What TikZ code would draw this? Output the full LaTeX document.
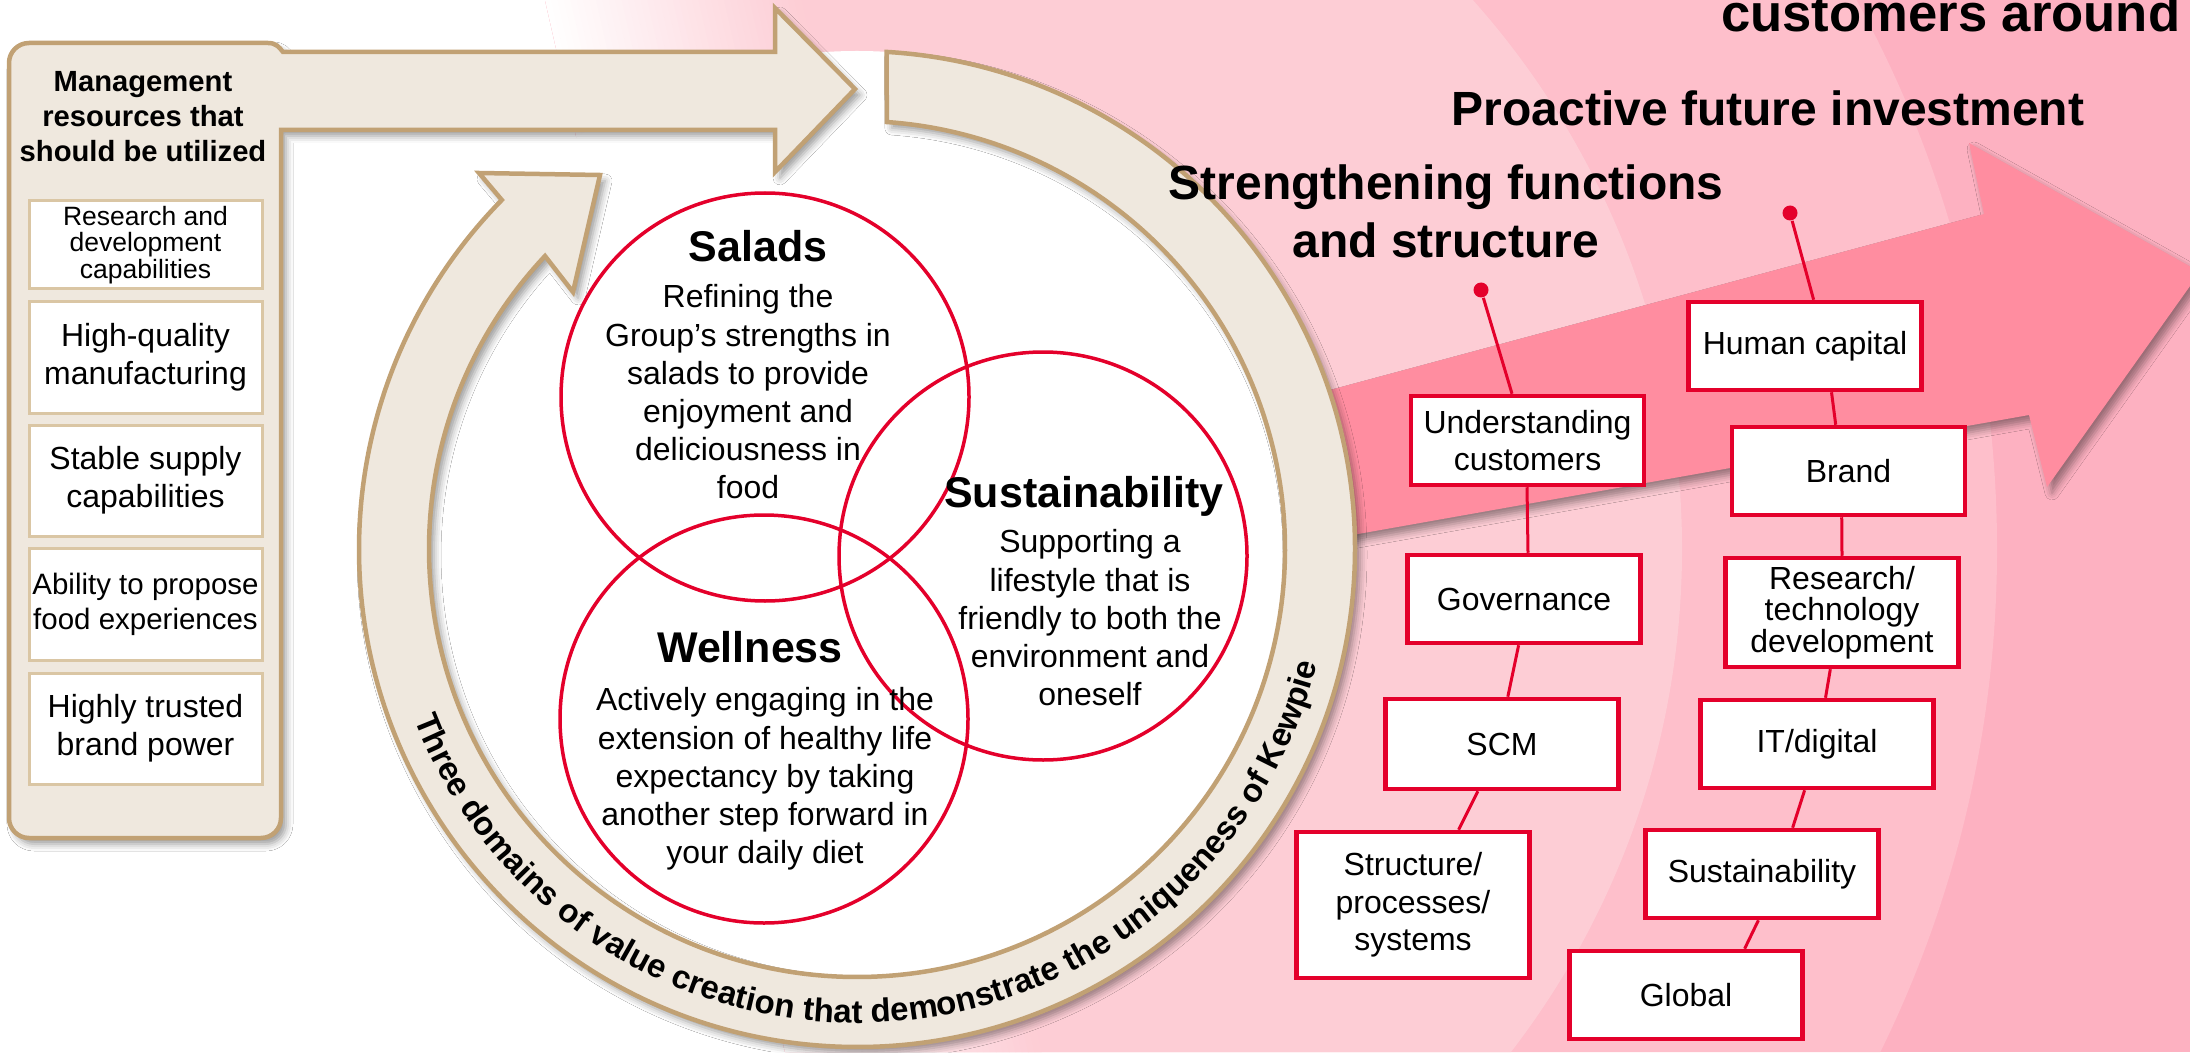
\documentclass[tikz,border=0pt]{standalone}
\usepackage{fontspec}
\setmainfont{Liberation Sans}
\usetikzlibrary{decorations.text,shadows.blur}

\definecolor{kred}{RGB}{228,0,43}
\definecolor{beige}{RGB}{239,232,222}
\definecolor{tan}{RGB}{193,161,116}
\definecolor{tanlight}{RGB}{218,198,164}
\definecolor{pinka}{RGB}{253,205,213}
\definecolor{pinkb}{RGB}{254,191,203}
\definecolor{pinkc}{RGB}{253,177,193}
\definecolor{pinkarrow}{RGB}{255,141,160}

\newcommand{\kbig}{\fontsize{14.97}{18}\selectfont\bfseries}
\newcommand{\khead}{\fontsize{13.66}{16.5}\selectfont\bfseries}
\newcommand{\ktitle}{\fontsize{12.23}{14}\selectfont\bfseries}
\newcommand{\kres}{\fontsize{8.31}{9.96}\selectfont\bfseries}
\newcommand{\kring}{\fontsize{9.39}{11}\selectfont\bfseries}
\newcommand{\kbody}{\fontsize{9.1}{10.7}\selectfont}
\newcommand{\kcirc}{\fontsize{9.1}{10.85}\selectfont}
\newcommand{\ksmall}{\fontsize{7.54}{7.6}\selectfont}

\begin{document}
\begin{tikzpicture}[
    x=0.1mm, y=0.1mm,
    lbl/.style={inner sep=0pt, align=center},
    res/.style={draw=tanlight, line width=0.3mm, fill=white, minimum width=23.3mm,
                inner sep=0pt, align=center, font=\kbody},
    fn/.style={draw=kred, line width=0.45mm, fill=white, minimum width=23.3mm,
               minimum height=8.9mm, inner sep=0pt, align=center, font=\kbody},
    link/.style={draw=kred, line width=0.3mm},
    pin/.style={circle, fill=kred, minimum size=1.5mm, inner sep=0pt},
    venn/.style={circle, draw=kred, line width=0.35mm, minimum size=40.8mm, inner sep=0pt},
    soft/.style={blur shadow={shadow xshift=0.5mm, shadow yshift=-0.6mm,
                 shadow blur radius=0.7mm, shadow opacity=40}},
  ]
  \useasboundingbox (0,0) rectangle (2190,1052);
  \fill[white] (0,0) rectangle (2190,1052);
  \coordinate (c) at (857,503);

  % pink bands behind the cycle
  \begin{scope}
    \clip (785,0) -- (2190,0) -- (2190,1052) -- (545,1052) -- cycle;
    \fill[pinkc] (0,0) rectangle (2190,1052);
    \fill[pinkb] (c) circle[radius=1140];
    \fill[pinka] (c) circle[radius=825];
    \foreach \i in {0,...,39}{
      \pgfmathsetmacro{\mix}{2.5*\i+1.25}
      \fill[pinka!\mix!white] (545+6.4*\i,1052) -- ++(7,0) -- (792+6.4*\i,0) -- ++(-7,0) -- cycle;
    }
  \end{scope}

  \fill[pinkarrow, soft] (1200,627) -- (1984,838) -- (1969,909) -- (2200,780)
    -- (2047,565) -- (2029,637) -- (1200,490) -- cycle;

  % value creation cycle
  \fill[white] (c) circle[radius=498];
  \draw[fill=beige, draw=tan, line width=0.45mm, soft]
    ([shift={(86.6:498)}]c) arc[start angle=86.6, end angle=-224.5, radius=498]
    -- (479,879) -- (600,877) -- (573,760)
    -- ([shift={(-223.2:428)}]c) arc[start angle=-223.2, end angle=86, radius=428] -- cycle;
  \path[decorate, decoration={text along path, text align=center,
        text={|\kring|Three domains of value creation that demonstrate the uniqueness of Kewpie}}]
    ([shift={(190:474)}]c) arc[start angle=190, end angle=357, radius=474];

  \node[venn] (salads) at (765,655) {};
  \node[venn] (wellness) at (764,333) {};
  \node[venn] (sustain) at (1043,496) {};

  \node[lbl, font=\ktitle, anchor=base] (saladst) at (758,790) {Salads};
  \node[lbl, font=\kcirc, anchor=north] (saladsb) at (748,768)
    {Refining the\\Group’s strengths in\\salads to provide\\enjoyment and\\deliciousness in\\food};
  \node[lbl, font=\ktitle, anchor=base] (wellnesst) at (750,390) {Wellness};
  \node[lbl, font=\kcirc, anchor=north] (wellnessb) at (765,365)
    {Actively engaging in the\\extension of healthy life\\expectancy by taking\\another step forward in\\your daily diet};
  \node[lbl, font=\ktitle, anchor=base] (sustaint) at (1084,545) {Sustainability};
  \node[lbl, font=\kcirc, anchor=north] (sustainb) at (1090,523)
    {Supporting a\\lifestyle that is\\friendly to both the\\environment and\\oneself};

  % management resources panel
  \draw[fill=beige, draw=tan, line width=0.45mm, soft]
    (9,234) -- (9,989) arc[start angle=180, end angle=90, radius=20] -- (268,1009)
    .. controls (276,1009) and (279,1005) .. (283,1000) -- (775,1000) -- (775,1044)
    -- (855,963) -- (775,880) -- (775,922) -- (281,922) -- (281,234)
    arc[start angle=0, end angle=-90, radius=20] -- (29,214)
    arc[start angle=270, end angle=180, radius=20] -- cycle;
  \node[lbl, font=\kres, anchor=north] (mgmt) at (143,981)
    {Management\\resources that\\should be utilized};
  \node[res, minimum height=8.8mm, font=\ksmall] (rd) at (145.5,807)
    {Research and\\development\\capabilities};
  \node[res, minimum height=11.2mm] (hq) at (145.5,695) {High-quality\\manufacturing};
  \node[res, minimum height=11.1mm] (ss) at (145.5,571.5) {Stable supply\\capabilities};
  \node[res, minimum height=11.2mm, font=\fontsize{8.39}{9.96}\selectfont] (fe) at (145.5,448)
    {Ability to propose\\food experiences};
  \node[res, minimum height=11.1mm] (bp) at (145.5,323.5) {Highly trusted\\brand power};

  \node[lbl, font=\kbig, anchor=base east] (cust) at (2181,1020) {customers around};
  \node[lbl, font=\khead, anchor=base] (invest) at (1768,926) {Proactive future investment};
  \node[lbl, font=\khead, anchor=north] (strength) at (1446,888)
    {Strengthening functions\\and structure};

  % functions and structure
  \node[pin] (dotl) at (1481,762) {};
  \node[fn] (und) at (1527.5,611.5) {Understanding\\customers};
  \node[fn, minimum height=8.8mm] (gov) at (1524,453) {Governance};
  \node[fn, minimum height=9mm] (scm) at (1502,308) {SCM};
  \node[fn, minimum height=14.6mm] (struct) at (1413,147) {Structure/\\processes/\\systems};

  % future investment
  \node[pin] (dotr) at (1790,839) {};
  \node[fn, minimum height=8.8mm] (hum) at (1805,706) {Human capital};
  \node[fn, minimum height=8.8mm] (brand) at (1848.5,581) {Brand};
  \node[fn, minimum height=10.9mm, font=\fontsize{9.1}{9.02}\selectfont] (rtd) at (1842,439.5)
    {Research/\\technology\\development};
  \node[fn, minimum height=8.8mm] (itd) at (1817,308) {IT/digital};
  \node[fn, minimum height=8.8mm] (sus) at (1762,178) {Sustainability};
  \node[fn, minimum height=8.8mm] (glob) at (1686,57) {Global};

  \draw[link] (dotl) -- ([xshift=-1.55mm]und.north);
  \draw[link] ([xshift=-0.05mm]und.south) -- ([xshift=0.4mm]gov.north);
  \draw[link] ([xshift=-0.54mm]gov.south) -- ([xshift=0.58mm]scm.north);
  \draw[link] ([xshift=-2.42mm]scm.south) -- ([xshift=4.56mm]struct.north);
  \draw[link] (dotr) -- ([xshift=0.86mm]hum.north);
  \draw[link] ([xshift=2.65mm]hum.south) -- ([xshift=-1.28mm]brand.north);
  \draw[link] ([xshift=-0.68mm]brand.south) -- (rtd.north);
  \draw[link] ([xshift=-1.17mm]rtd.south) -- ([xshift=0.85mm]itd.north);
  \draw[link] ([xshift=-1.24mm]itd.south) -- ([xshift=3.06mm]sus.north);
  \draw[link] ([xshift=-0.36mm]sus.south) -- ([xshift=5.86mm]glob.north);
\end{tikzpicture}
\end{document}
